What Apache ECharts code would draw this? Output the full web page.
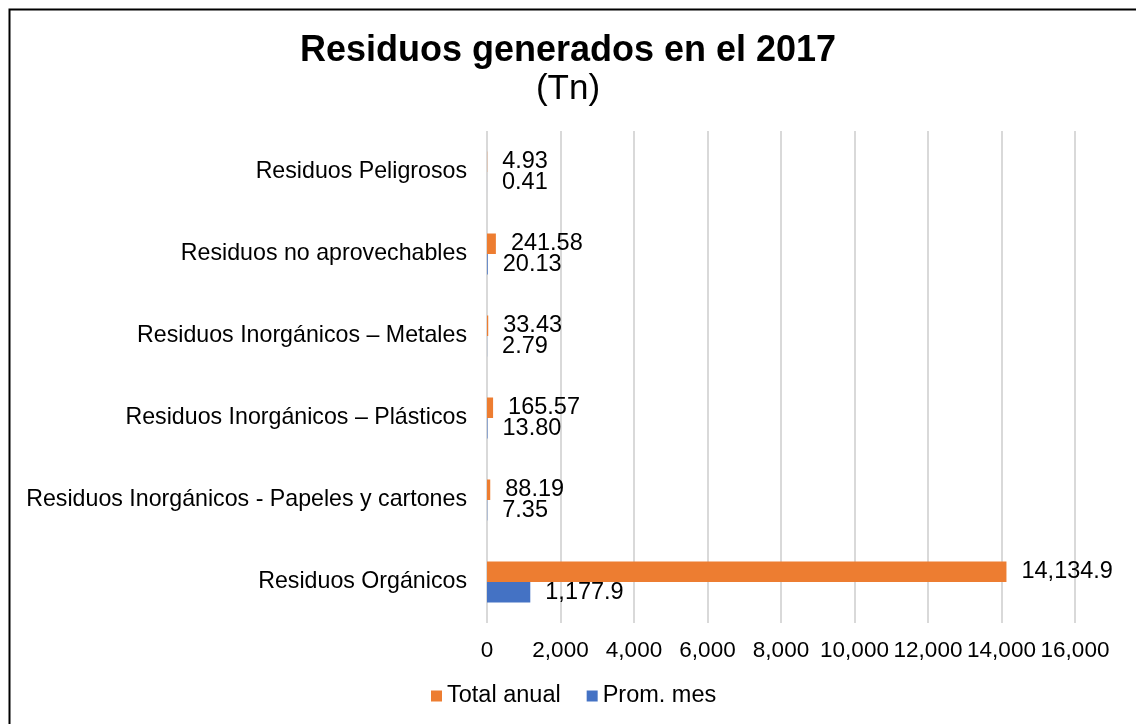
<!DOCTYPE html>
<html>
<head>
<meta charset="utf-8">
<title>Residuos generados en el 2017</title>
<script src="https://cdn.jsdelivr.net/npm/echarts@6/dist/echarts.min.js"></script>
<style>
    html, body { margin: 0; padding: 0; background: #fff; }
    #residuosChart { width: 1136px; height: 724px; }
</style>
</head>
<body>
<div id="residuosChart"></div>
<script>
// 数据
var categorias = [
    'Residuos Peligrosos',
    'Residuos no aprovechables',
    'Residuos Inorgánicos – Metales',
    'Residuos Inorgánicos – Plásticos',
    'Residuos Inorgánicos - Papeles y cartones',
    'Residuos Orgánicos'
];
var totalAnual = [4.93, 241.58, 33.43, 165.57, 88.19, 14134.9];
var promMes = [0.41, 20.13, 2.79, 13.80, 7.35, 1177.9];
var serieNombres = ['Total anual', 'Prom. mes'];

var fuente = '"Liberation Sans", Arial, sans-serif';

function etiqueta(p) {
    var v = p.value;
    if (v >= 1000) {
        return v.toLocaleString('en-US', { minimumFractionDigits: 1, maximumFractionDigits: 1 });
    }
    return v.toFixed(2);
}

var myChart = echarts.init(document.getElementById('residuosChart'));

var option = {
    backgroundColor: '#fff',
    animation: false,
    textStyle: { fontFamily: fuente },
    title: [{
        text: 'Residuos generados en el 2017',
        left: 'center',
        top: 28,
        textStyle: { fontFamily: fuente, fontSize: 36, fontWeight: 'bold', color: '#000' }
    }, {
        text: '(Tn)',
        left: 'center',
        top: 67,
        textStyle: { fontFamily: fuente, fontSize: 35, fontWeight: 'normal', color: '#000' }
    }],
    graphic: [{
        type: 'rect',
        left: 7,
        top: 7,
        shape: { width: 1300, height: 900 },
        style: { fill: 'none', stroke: '#000', lineWidth: 2 },
        silent: true
    }],
    legend: {
        data: serieNombres,
        left: 426,
        bottom: 11,
        itemWidth: 11,
        itemHeight: 11,
        itemGap: 26,
        icon: 'rect',
        textStyle: { fontFamily: fuente, fontSize: 23.5, color: '#000' }
    },
    grid: {
        left: 487,
        right: 61,
        top: 131,
        bottom: 101,
        containLabel: false
    },
    xAxis: {
        type: 'value',
        min: 0,
        max: 16000,
        interval: 2000,
        axisLine: { show: false },
        axisTick: { show: false },
        splitLine: { lineStyle: { color: '#d9d9d9', width: 2 } },
        axisLabel: {
            margin: 16,
            fontFamily: fuente,
            fontSize: 22.5,
            color: '#000',
            formatter: function (v) { return v.toLocaleString('en-US'); }
        }
    },
    yAxis: {
        type: 'category',
        data: categorias,
        inverse: true,
        axisLine: { show: false },
        axisTick: { show: false },
        axisLabel: {
            margin: 20,
            fontFamily: fuente,
            fontSize: 23.2,
            color: '#000'
        }
    },
    series: [{
        name: serieNombres[0],
        type: 'bar',
        data: totalAnual,
        barGap: '0%',
        barCategoryGap: '50%',
        itemStyle: { color: '#ED7D31' },
        label: {
            show: true,
            position: 'right',
            distance: 15,
            fontFamily: fuente,
            fontSize: 23.5,
            color: '#000',
            formatter: etiqueta
        }
    }, {
        name: serieNombres[1],
        type: 'bar',
        data: promMes,
        barGap: '0%',
        barCategoryGap: '50%',
        itemStyle: { color: '#4472C4' },
        label: {
            show: true,
            position: 'right',
            distance: 15,
            fontFamily: fuente,
            fontSize: 23.5,
            color: '#000',
            formatter: etiqueta
        }
    }]
};

myChart.setOption(option);

window.addEventListener('resize', function () {
    myChart.resize();
});
</script>
</body>
</html>
